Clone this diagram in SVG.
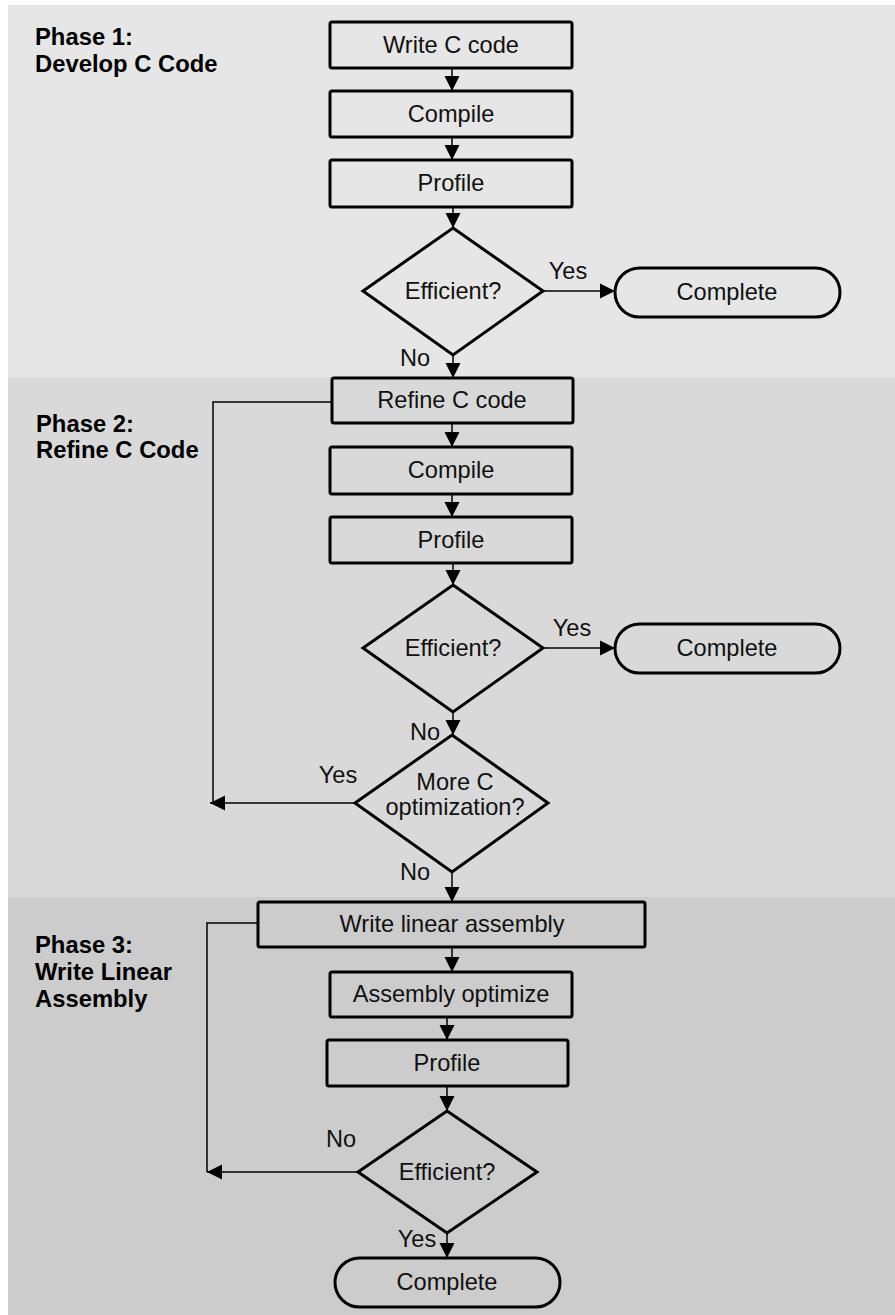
<svg xmlns="http://www.w3.org/2000/svg" width="895" height="1315" viewBox="0 0 895 1315">
<style>
.box{fill:none;stroke:#000;stroke-width:3}
.t{font-family:"Liberation Sans",Arial,sans-serif;font-size:23.6px;fill:#111;text-anchor:middle}
.ph{font-family:"Liberation Sans",Arial,sans-serif;font-size:23.8px;font-weight:bold;fill:#000}
.lbl{font-family:"Liberation Sans",Arial,sans-serif;font-size:23.6px;fill:#111;text-anchor:middle}
.c{fill:none;stroke:#000;stroke-width:1.5}
</style>
<defs>
<marker id="ah" markerUnits="userSpaceOnUse" markerWidth="17" markerHeight="17" refX="15" refY="8" orient="auto">
<path d="M0,0.5 L15,8 L0,15.5 z" fill="#000"/>
</marker>
</defs>
<rect x="0" y="0" width="895" height="1315" fill="#fff"/>
<g id="bands">
<rect x="8" y="5" width="887" height="372" fill="#e6e6e6"/>
<rect x="8" y="377" width="887" height="520" fill="#d9d9d9"/>
<rect x="8" y="897" width="887" height="418" fill="#cccccc"/>
</g>
<g id="phase1-label"><text class="ph" x="35" y="45">Phase 1:</text><text class="ph" x="35" y="72">Develop C Code</text></g>
<g id="phase2-label"><text class="ph" x="36" y="432">Phase 2:</text><text class="ph" x="36" y="458">Refine C Code</text></g>
<g id="phase3-label"><text class="ph" x="35" y="953">Phase 3:</text><text class="ph" x="35" y="980">Write Linear</text><text class="ph" x="35" y="1007">Assembly</text></g>

<g id="connectors">
<line class="c" x1="452" y1="68" x2="452" y2="91" marker-end="url(#ah)"/>
<line class="c" x1="452" y1="137" x2="452" y2="160" marker-end="url(#ah)"/>
<line class="c" x1="453" y1="207" x2="453" y2="228" marker-end="url(#ah)"/>
<line class="c" x1="543" y1="291" x2="615" y2="291" marker-end="url(#ah)"/>
<line class="c" x1="453" y1="355" x2="453" y2="378" marker-end="url(#ah)"/>
<line class="c" x1="452" y1="423" x2="452" y2="447" marker-end="url(#ah)"/>
<line class="c" x1="452" y1="494" x2="452" y2="517" marker-end="url(#ah)"/>
<line class="c" x1="453" y1="563" x2="453" y2="585" marker-end="url(#ah)"/>
<line class="c" x1="543" y1="648" x2="615" y2="648" marker-end="url(#ah)"/>
<line class="c" x1="453" y1="712" x2="453" y2="735" marker-end="url(#ah)"/>
<polyline class="c" points="332,402 213,402 213,803"/>
<line class="c" x1="355" y1="803" x2="210" y2="803" marker-end="url(#ah)"/>
<line class="c" x1="452" y1="872" x2="452" y2="902" marker-end="url(#ah)"/>
<line class="c" x1="452" y1="947" x2="452" y2="972" marker-end="url(#ah)"/>
<line class="c" x1="447" y1="1017" x2="447" y2="1040" marker-end="url(#ah)"/>
<line class="c" x1="447" y1="1086" x2="447" y2="1111" marker-end="url(#ah)"/>
<polyline class="c" points="258,923 207,923 207,1172"/>
<line class="c" x1="358" y1="1172" x2="207" y2="1172" marker-end="url(#ah)"/>
<line class="c" x1="447" y1="1233" x2="447" y2="1258" marker-end="url(#ah)"/>
</g>

<g id="write-c"><rect class="box" x="330" y="22" width="242" height="46" rx="2"/><text class="t" x="451" y="53">Write C code</text></g>
<g id="compile1"><rect class="box" x="330" y="91" width="242" height="46" rx="2"/><text class="t" x="451" y="122">Compile</text></g>
<g id="profile1"><rect class="box" x="330" y="160" width="242" height="47" rx="2"/><text class="t" x="451" y="191">Profile</text></g>
<g id="efficient1"><polygon class="box" points="453,228 543,291 453,355 363,291"/><text class="t" x="453" y="299">Efficient?</text></g>
<g id="complete1"><rect class="box" x="615" y="268" width="225" height="49" rx="24.5"/><text class="t" x="727" y="300">Complete</text></g>
<text class="lbl" x="568" y="279">Yes</text>
<text class="lbl" x="415" y="366">No</text>

<g id="refine-c"><rect class="box" x="332" y="378" width="241" height="45" rx="2"/><text class="t" x="452" y="408">Refine C code</text></g>
<g id="compile2"><rect class="box" x="330" y="447" width="242" height="47" rx="2"/><text class="t" x="451" y="478">Compile</text></g>
<g id="profile2"><rect class="box" x="330" y="517" width="242" height="46" rx="2"/><text class="t" x="451" y="548">Profile</text></g>
<g id="efficient2"><polygon class="box" points="453,585 543,648 453,712 363,648"/><text class="t" x="453" y="656">Efficient?</text></g>
<g id="complete2"><rect class="box" x="615" y="624" width="225" height="49" rx="24.5"/><text class="t" x="727" y="656">Complete</text></g>
<text class="lbl" x="572" y="636">Yes</text>
<text class="lbl" x="425" y="740">No</text>
<g id="more-c"><polygon class="box" points="452,735 548,803 452,872 355,803"/><text class="t" x="455" y="790">More C</text><text class="t" x="455" y="815">optimization?</text></g>
<text class="lbl" x="338" y="783">Yes</text>
<text class="lbl" x="415" y="880">No</text>

<g id="write-linear"><rect class="box" x="258" y="902" width="387" height="45" rx="2"/><text class="t" x="452" y="932">Write linear assembly</text></g>
<g id="asm-opt"><rect class="box" x="330" y="972" width="242" height="45" rx="2"/><text class="t" x="451" y="1002">Assembly optimize</text></g>
<g id="profile3"><rect class="box" x="327" y="1040" width="241" height="46" rx="2"/><text class="t" x="447" y="1071">Profile</text></g>
<g id="efficient3"><polygon class="box" points="447,1111 537,1172 447,1233 358,1172"/><text class="t" x="447" y="1180">Efficient?</text></g>
<text class="lbl" x="341" y="1147">No</text>
<text class="lbl" x="417" y="1247">Yes</text>
<g id="complete3"><rect class="box" x="335" y="1258" width="225" height="49" rx="24.5"/><text class="t" x="447" y="1290">Complete</text></g>
</svg>
